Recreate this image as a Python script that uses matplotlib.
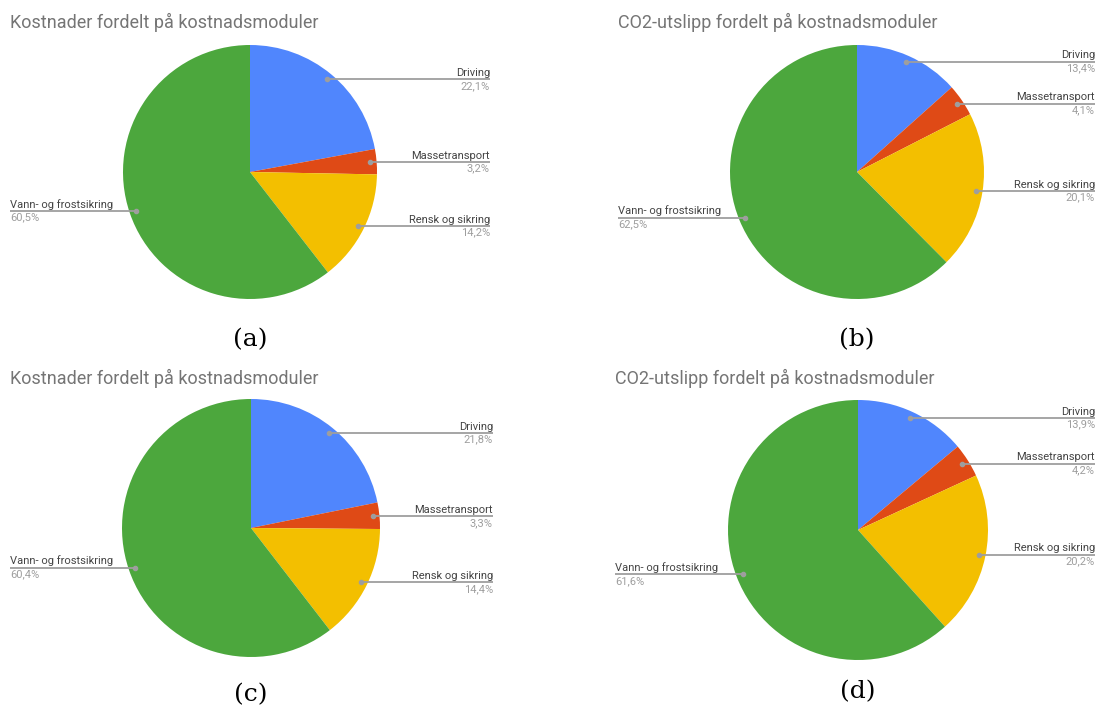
import numpy as np
import matplotlib.pyplot as plt

W, H = 1097, 707

categories = ["Driving", "Massetransport", "Rensk og sikring", "Vann- og frostsikring"]
cost_a = [22.1, 3.2, 14.2, 60.5]
co2_b = [13.4, 4.1, 20.1, 62.5]
cost_c = [21.8, 3.3, 14.4, 60.4]
co2_d = [13.9, 4.2, 20.2, 61.6]

title_cost = "Kostnader fordelt på kostnadsmoduler"
title_co2 = "CO2-utslipp fordelt på kostnadsmoduler"
captions = ["(a)", "(b)", "(c)", "(d)"]

colors = ["#5086fd", "#df4a16", "#f3bf00", "#4ca73d"]

# layout in pixels: title x/y, pie centre, radius, left label col, right label col, caption y
panels = [
    (title_cost, cost_a, (10, 22), (250, 172), 127, 10, 490, 340),
    (title_co2, co2_b, (618, 22), (857, 172), 127, 618, 1095, 340),
    (title_cost, cost_c, (10, 378), (251, 528), 129, 10, 493, 695),
    (title_co2, co2_d, (615, 378), (858, 530), 130, 615, 1095, 692),
]

fig = plt.figure(figsize=(W / 100, H / 100), dpi=100)
font = "Roboto"

for (title, vals, tpos, cen, r, lcol, rcol, capy), cap in zip(panels, captions):
    cx, cy = cen
    ax = fig.add_axes([(cx - r) / W, 1 - (cy + r) / H, 2 * r / W, 2 * r / H])
    wedges, _ = ax.pie(vals, colors=colors, startangle=90, counterclock=False,
                       radius=1, wedgeprops=dict(linewidth=0))
    ax.set_xlim(-1, 1)
    ax.set_ylim(-1, 1)
    ax.set_aspect("equal")

    for w, name, v in zip(wedges, categories, vals):
        ang = np.deg2rad((w.theta1 + w.theta2) / 2)
        x0, y0 = 0.95 * np.cos(ang), 0.95 * np.sin(ang)
        if x0 > 0:
            xe = (rcol - cx) / r
            ha = "right"
        else:
            xe = (lcol - cx) / r
            ha = "left"
        ax.plot([x0, xe], [y0, y0], color="#9e9e9e", lw=1.3, clip_on=False,
                solid_capstyle="butt")
        ax.plot(x0, y0, "o", ms=3, color="#9e9e9e", clip_on=False)
        ax.text(xe, y0 + 1.5 / r, name, ha=ha, va="bottom", fontsize=8,
                color="#444444", family=font, clip_on=False)
        pct = ("%.1f" % v).replace(".", ",") + "%"
        ax.text(xe, y0 - 1.5 / r, pct, ha=ha, va="top", fontsize=8,
                color="#9e9e9e", family=font, clip_on=False)

    fig.text(tpos[0] / W, 1 - tpos[1] / H, title, ha="left", va="center",
             fontsize=13, color="#757575", family=font)
    fig.text(cx / W, 1 - capy / H, cap, ha="center", va="center",
             fontsize=18, color="black", family="DejaVu Serif")

fig.savefig("out.png", dpi=100)
